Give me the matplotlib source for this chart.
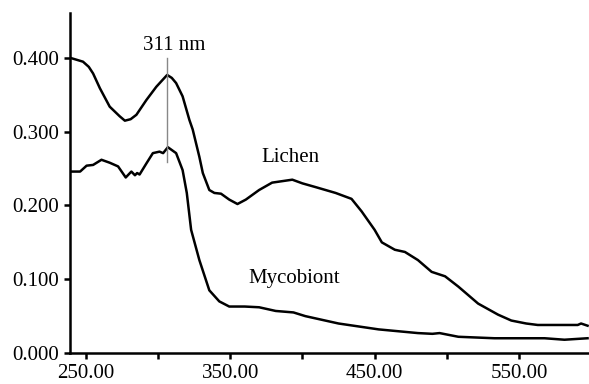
import matplotlib
matplotlib.use("Agg")
import matplotlib.pyplot as plt

plt.rcParams['font.family'] = ['Liberation Serif', 'DejaVu Serif']

lichen_x = [239.5, 248, 252, 255, 259.7, 266.5, 273.4, 277, 281, 285, 291.9, 298.8, 303, 306.3,
            309.5, 312.5, 317, 321.7, 324, 328.6, 331, 335.5, 339, 343.6, 349.3, 355, 360.8, 370,
            379, 393, 400, 409, 423, 434, 441, 450, 455, 464, 471, 480, 489.5, 498.8, 508, 521.7,
            535.5, 544.7, 555, 563, 575, 585, 590.7, 593, 597.5]
lichen_y = [0.400, 0.395, 0.388, 0.379, 0.359, 0.334, 0.321, 0.315, 0.317, 0.323, 0.343, 0.361,
            0.370, 0.377, 0.373, 0.366, 0.348, 0.316, 0.303, 0.266, 0.244, 0.221, 0.217, 0.216,
            0.208, 0.202, 0.208, 0.221, 0.231, 0.235, 0.230, 0.225, 0.217, 0.209, 0.192, 0.167,
            0.150, 0.140, 0.137, 0.126, 0.110, 0.104, 0.090, 0.067, 0.052, 0.044, 0.040, 0.038,
            0.038, 0.038, 0.038, 0.040, 0.037]

myco_x = [239.5, 246, 250.5, 255, 260.8, 266.5, 272.3, 277.6, 281.5, 284, 285.5, 287.2, 291.9,
          296.4, 301, 303.5, 306.8, 312.5, 317, 319.9, 322.9, 328.6, 335.5, 342.4, 349.3, 360,
          370, 381.5, 393.8, 402, 425, 452.8, 480, 490, 495, 508, 533, 567.7, 581.5, 597.5]
myco_y = [0.246, 0.246, 0.254, 0.255, 0.262, 0.258, 0.253, 0.238, 0.246, 0.241, 0.244, 0.242,
          0.257, 0.271, 0.273, 0.271, 0.279, 0.271, 0.248, 0.217, 0.167, 0.126, 0.085, 0.070,
          0.063, 0.063, 0.062, 0.057, 0.055, 0.050, 0.040, 0.032, 0.027, 0.026, 0.027, 0.022,
          0.020, 0.020, 0.018, 0.020]

peak_x = 306.5
peak_label = "311 nm"
x_ticks = [250, 300, 350, 400, 450, 500, 550]
x_ticklabels = ["250.00", "", "350.00", "", "450.00", "", "550.00"]
y_ticks = [0.0, 0.1, 0.2, 0.3, 0.4]
y_ticklabels = ["0.000", "0.100", "0.200", "0.300", "0.400"]

fig = plt.figure(figsize=(5.89, 3.84), dpi=100)
ax = fig.add_axes([70/589, 1 - 353/384, 1 - 70/589, (353 - 13)/384])

ax.plot(lichen_x, lichen_y, color='black', lw=1.8, solid_joinstyle='round')
ax.plot(myco_x, myco_y, color='black', lw=1.8, solid_joinstyle='round')
ax.plot([peak_x, peak_x], [0.400, 0.259], color='#888888', lw=1.0)

ax.text(peak_x + 4.5, 0.417, peak_label, ha='center', va='center', fontsize=15)
ax.text(392, 0.265, "Lichen", ha='center', va='center', fontsize=15)
ax.text(394, 0.101, "Mycobiont", ha='center', va='center', fontsize=15)

ax.set_xlim(239, 598.5)
ax.set_ylim(0, 0.461)
ax.set_xticks(x_ticks)
ax.set_xticklabels(x_ticklabels)
ax.set_yticks(y_ticks)
ax.set_yticklabels(y_ticklabels)

for s in ['top', 'right']:
    ax.spines[s].set_visible(False)
for s in ['left', 'bottom']:
    ax.spines[s].set_linewidth(1.8)
    ax.spines[s].set_color('black')
ax.tick_params(axis='both', direction='out', length=4, width=1.8, labelsize=15, colors='black')
ax.tick_params(axis='x', pad=4)
ax.tick_params(axis='y', pad=4)

fig.savefig("out.png", dpi=100)
